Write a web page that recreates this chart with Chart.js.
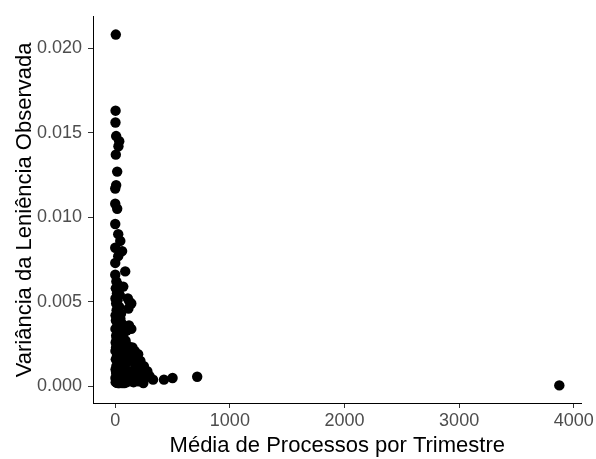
<!DOCTYPE html>
<html>
<head>
<meta charset="utf-8">
<script src="https://cdn.jsdelivr.net/npm/chart.js@4.4.1/dist/chart.umd.min.js"></script>
<style>
  html, body { margin: 0; padding: 0; background: #fff; }
  #wrap { width: 596px; height: 459px; }
</style>
</head>
<body>
<div id="wrap"><canvas id="scatterChart" width="596" height="459"></canvas></div>
<script>
// média de processos por trimestre (x) e variância da leniência (y)
const mediaProcessos = [
  5, 3, 2, 8, 28, 35, 5, 17, 8, 0, 0, 17, 0, 26, 44, 60, 0, 26, 0, 87,
  0, 10, 25, 5, 30, 15, 40, 70, 2, 20, 110, 125, 140, 115, 8, 35, 12, 28, 50, 3,
  18, 45, 6, 30, 60, 120, 140, 100, 15, 2, 40, 25, 8, 55, 70, 12, 35, 90, 4, 20,
  50, 110, 150, 170, 7, 30, 65, 2, 45, 95, 130, 200, 180, 15, 35, 75, 5, 55, 115, 220,
  250, 25, 85, 10, 175, 45, 3, 65, 190, 280, 30, 120, 8, 95, 230, 300, 18, 50, 160, 2,
  40, 75, 250, 140, 12, 200, 330, 425, 500, 715, 25, 60, 100, 4, 160, 245, 35, 80, 15, 3874
];
const varianciaLeniencia = [
  0.0208, 0.0163, 0.0156, 0.0148, 0.0142, 0.0145, 0.0137, 0.0127, 0.0119, 0.0117,
  0.0108, 0.0105, 0.0096, 0.0090, 0.0086, 0.0080, 0.0082, 0.0077, 0.0073, 0.0068,
  0.0066, 0.0062, 0.0060, 0.0058, 0.0057, 0.0055, 0.0054, 0.0059, 0.0052, 0.0051,
  0.0052, 0.0050, 0.0049, 0.0046, 0.0049, 0.0047, 0.0045, 0.0044, 0.0043, 0.0042,
  0.0041, 0.0040, 0.0039, 0.0038, 0.0037, 0.0036, 0.0034, 0.0033, 0.0035, 0.0034,
  0.0032, 0.0031, 0.0030, 0.0030, 0.0029, 0.0028, 0.0027, 0.0027, 0.0026, 0.0025,
  0.0025, 0.0024, 0.0023, 0.0021, 0.0023, 0.0022, 0.0022, 0.0021, 0.0020, 0.0020,
  0.0019, 0.0019, 0.0017, 0.0018, 0.0017, 0.0017, 0.0016, 0.0015, 0.0015, 0.0015,
  0.0012, 0.0014, 0.0013, 0.0012, 0.0012, 0.0011, 0.0010, 0.0010, 0.0010, 0.0009,
  0.0009, 0.0009, 0.0008, 0.0007, 0.0007, 0.0006, 0.0006, 0.0006, 0.0005, 0.0005,
  0.0004, 0.0004, 0.0004, 0.0003, 0.0003, 0.0003, 0.0004, 0.0004, 0.0005, 0.00057,
  0.0002, 0.0002, 0.00025, 0.00025, 0.00025, 0.0002, 0.0002, 0.0002, 0.00022, 0.00006
];
const xTicks = [0, 1000, 2000, 3000, 4000];
const yTicks = [0, 0.005, 0.010, 0.015, 0.020];

const points = mediaProcessos.map((x, i) => ({ x: x, y: varianciaLeniencia[i] }));

const tickFont = { family: "'Liberation Sans', Arial, sans-serif", size: 18 };
const titleFont = { family: "'Liberation Sans', Arial, sans-serif", size: 22 };

const ctx = document.getElementById("scatterChart").getContext("2d");
new Chart(ctx, {
  type: "scatter",
  data: {
    datasets: [{
      data: points,
      backgroundColor: "#000000",
      borderColor: "#000000",
      borderWidth: 0,
      pointRadius: 5.2,
      pointHoverRadius: 5.2
    }]
  },
  options: {
    responsive: false,
    animation: false,
    events: [],
    layout: { padding: { top: 13, right: 14, left: 0, bottom: 0 } },
    plugins: {
      legend: { display: false },
      tooltip: { enabled: false }
    },
    scales: {
      x: {
        type: "linear",
        min: -194,
        max: 4068,
        afterBuildTicks: s => { s.ticks = xTicks.map(v => ({ value: v })); },
        afterFit: s => { s.height = 56; },
        ticks: {
          color: "#4d4d4d",
          font: tickFont,
          padding: 2,
          maxRotation: 0,
          callback: v => String(v)
        },
        grid: { drawOnChartArea: false, drawTicks: true, tickLength: 5, color: "#333333" },
        border: { display: true, color: "#000000", width: 1 },
        title: {
          display: true,
          text: "Média de Processos por Trimestre",
          color: "#000000",
          font: titleFont,
          padding: { top: 0, bottom: 0 }
        }
      },
      y: {
        type: "linear",
        min: -0.00098,
        max: 0.02185,
        afterBuildTicks: s => { s.ticks = yTicks.map(v => ({ value: v })); },
        afterFit: s => { s.width = 93; },
        ticks: {
          color: "#4d4d4d",
          font: tickFont,
          padding: 6,
          callback: v => Number(v).toFixed(3)
        },
        grid: { drawOnChartArea: false, drawTicks: true, tickLength: 5, color: "#333333" },
        border: { display: true, color: "#000000", width: 1 },
        title: {
          display: true,
          text: "Variância da Leniência Observada",
          color: "#000000",
          font: titleFont,
          padding: { top: 12, bottom: 0 }
        }
      }
    }
  }
});
</script>
</body>
</html>
